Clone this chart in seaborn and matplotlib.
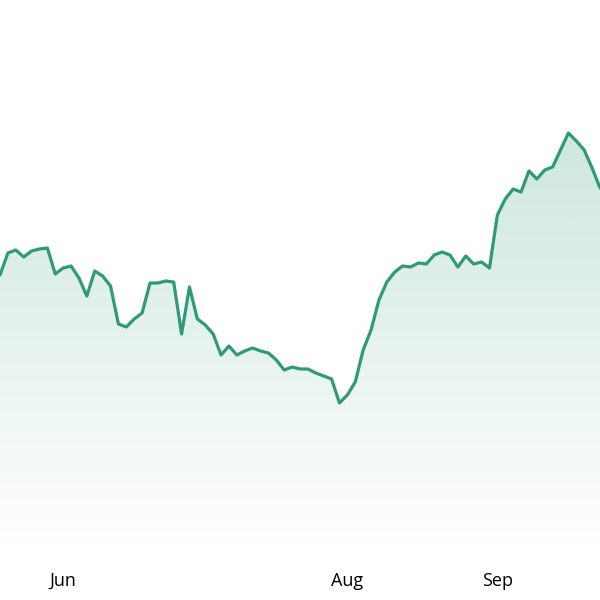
import numpy as np
import seaborn as sns
import matplotlib.pyplot as plt
from matplotlib.patches import Polygon

# (no y axis shown, so units are arbitrary heights)
values = [325, 347, 350, 343, 349, 351, 352, 326, 332, 334,
          322, 304, 329, 324, 314, 276, 273, 281, 287, 317,
          317, 319, 318, 266, 313, 281, 275, 266, 245, 254,
          245, 249, 252, 249, 247, 240, 230, 233, 231, 231,
          227, 224, 221, 197, 205, 218, 250, 270, 300, 318,
          328, 334, 333, 337, 336, 345, 348, 345, 333, 344,
          336, 338, 332, 385, 401, 411, 408, 429, 421, 430,
          433, 450, 467, 459, 450, 432, 412]
tick_pos = [8, 44, 63]
tick_labels = ["Jun", "Aug", "Sep"]

line_color = "#2f9a77"

sns.set_style("white")
plt.rcParams['font.family'] = ['Open Sans', 'DejaVu Sans']

x = np.arange(len(values))
fig = plt.figure(figsize=(6, 6), dpi=100)
ax = fig.add_axes([0, 0.075, 1, 0.925])

ymin, ymax = 45, 600
top = max(values)

# gradient under the line
rgb = np.array(plt.matplotlib.colors.to_rgb(line_color))
grad = np.zeros((256, 1, 4))
grad[:, :, :3] = rgb
grad[:, 0, 3] = np.linspace(0.24, 0.0, 256)
img = ax.imshow(grad, aspect="auto", extent=[0, len(values) - 1, ymin, top],
                origin="upper", zorder=1)
poly = Polygon(np.column_stack([np.r_[x, x[-1], x[0]],
                                np.r_[values, ymin, ymin]]),
               closed=True, facecolor="none", edgecolor="none")
ax.add_patch(poly)
img.set_clip_path(poly)

sns.lineplot(x=x, y=values, ax=ax, color=line_color, linewidth=2.3, zorder=3)

ax.set_xlim(0, len(values) - 1)
ax.set_ylim(ymin, ymax)
ax.set_xticks(tick_pos)
ax.set_xticklabels(tick_labels, fontsize=13, color="#000000")
ax.tick_params(axis="x", length=0, pad=12)
ax.set_yticks([])
for s in ax.spines.values():
    s.set_visible(False)

fig.savefig("out.png", dpi=100)
